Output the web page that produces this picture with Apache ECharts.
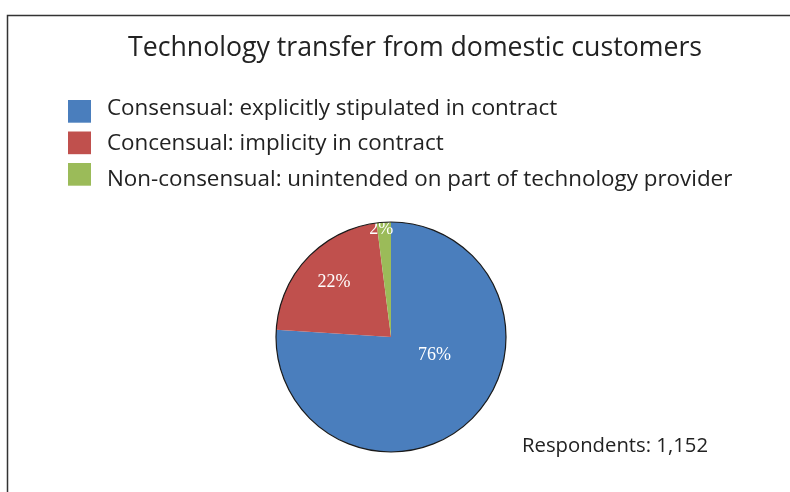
<!DOCTYPE html>
<html>
<head>
<meta charset="utf-8">
<script src="https://cdn.jsdelivr.net/npm/echarts@6/dist/echarts.min.js"></script>
<style>
  html, body { margin: 0; padding: 0; background: #fff; }
  #chart { width: 790px; height: 492px; }
</style>
</head>
<body>
<div id="chart"></div>
<script>
// Share of technology transfer by type (percent of respondents)
const categories = [
  'Consensual: explicitly stipulated in contract',
  'Concensual: implicity in contract',
  'Non-consensual: unintended on part of technology provider'
];
const shares = [76, 22, 2];
const sliceColors = ['#4a7ebd', '#c0504d', '#9bbb59'];
// label nudges from the default inside position
const labelOffsets = [[2, -26], [-13, -13], [-6, -47]];
const respondents = '1,152';

const chart = echarts.init(document.getElementById('chart'), null, { renderer: 'canvas' });

const uiFont = '"Open Sans", Lato, sans-serif';

// The swatches step 31.5px apart while the text lines step ~35px,
// so swatches and names come from two stacked legends.
const legendBase = {
  orient: 'vertical',
  left: 68,
  padding: 0,
  itemWidth: 23,
  selectedMode: false,
  data: categories
};
const legends = [
  Object.assign({}, legendBase, {
    top: 100,
    icon: 'rect',
    itemHeight: 22.7,
    itemGap: 8.8,
    formatter: () => '',
    textStyle: { fontSize: 1, lineHeight: 1 }
  }),
  Object.assign({}, legendBase, {
    top: 97.7,
    icon: 'none',
    itemHeight: 14,
    itemGap: 13.4,
    textStyle: {
      fontFamily: uiFont, fontSize: 22.4, color: '#222',
      padding: [0, 0, 0, 11]
    }
  })
];

chart.setOption({
  backgroundColor: '#ffffff',
  animation: false,
  title: [
    {
      text: 'Technology transfer from domestic customers',
      left: 410,
      top: 30,
      textAlign: 'center',
      textStyle: { fontFamily: uiFont, fontSize: 26.7, fontWeight: 'normal', color: '#222' }
    },
    {
      text: 'Respondents: ' + respondents,
      left: 517,
      top: 431,
      textStyle: { fontFamily: uiFont, fontSize: 20.3, fontWeight: 'normal', color: '#222' }
    }
  ],
  legend: legends,
  graphic: [
    {
      type: 'polyline',
      shape: { points: [[7.5, 492], [7.5, 15.5], [790, 15.5]] },
      style: { stroke: '#333', lineWidth: 1.5, fill: null },
      silent: true
    }
  ],
  series: [
    {
      type: 'pie',
      center: [391, 337],
      radius: [0, 115],
      startAngle: 90,
      clockwise: true,
      silent: true,
      data: categories.map((name, i) => ({
        name,
        value: shares[i],
        itemStyle: { color: sliceColors[i] },
        label: { offset: labelOffsets[i] }
      })),
      itemStyle: { borderWidth: 0 },
      label: {
        show: true,
        position: 'inside',
        formatter: p => p.value + '%',
        fontFamily: '"Liberation Serif", "DejaVu Serif", serif',
        fontSize: 18,
        color: '#ffffff'
      },
      labelLine: { show: false }
    },
    {
      // outer rim of the pie
      type: 'pie',
      center: [391, 337],
      radius: [0, 115],
      silent: true,
      z: 3,
      data: [{ name: 'rim', value: 1 }],
      itemStyle: { color: 'rgba(0,0,0,0)', borderColor: '#1a1a1a', borderWidth: 1.2 },
      label: { show: false },
      labelLine: { show: false }
    }
  ]
});
</script>
</body>
</html>
